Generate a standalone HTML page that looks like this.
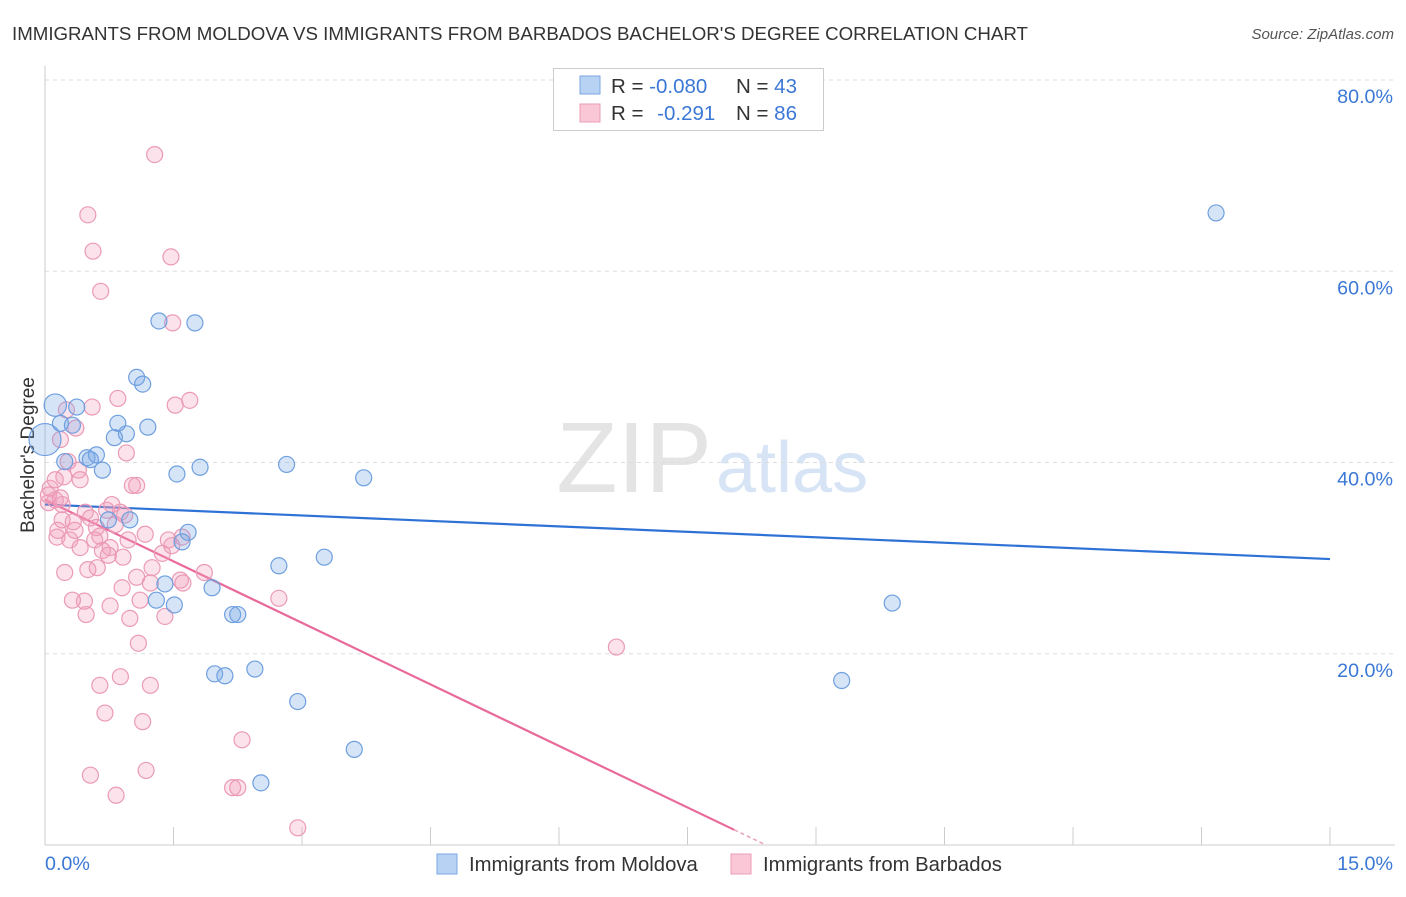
<!DOCTYPE html>
<html><head><meta charset="utf-8">
<style>
body{margin:0;background:#fff;font-family:"Liberation Sans",sans-serif;}
svg text{font-family:"Liberation Sans",sans-serif;}
</style></head>
<body>
<svg id="chart" width="1406" height="892" xmlns="http://www.w3.org/2000/svg">
<text x="12" y="40" font-size="18.7" fill="#333">IMMIGRANTS FROM MOLDOVA VS IMMIGRANTS FROM BARBADOS BACHELOR'S DEGREE CORRELATION CHART</text>
<text x="1394" y="39" font-size="15" fill="#555" text-anchor="end" font-style="italic">Source: ZipAtlas.com</text>
<text x="712" y="492" font-size="100" fill="#e4e4e4" text-anchor="end" font-family="Liberation Serif">ZIP</text>
<text x="716" y="492" font-size="72" fill="#d6e4f5">atlas</text>
<text transform="translate(34,455) rotate(-90)" font-size="19" fill="#333" text-anchor="middle">Bachelor's Degree</text>
<g id="grid"></g><g id="axes"></g><g id="trends"></g><g id="points"></g>
<g>
<rect x="553.5" y="68.5" width="270" height="62" fill="#fff" stroke="#ccc"/>
<rect x="580" y="76" width="20" height="18" fill="#b8d2f3" stroke="#7aa7e3"/>
<rect x="580" y="104" width="20" height="18" fill="#f9c7d6" stroke="#ec9cb7"/>
<text x="611" y="93" font-size="20.5" fill="#333">R = <tspan fill="#3b78d6">-0.080</tspan></text>
<text x="736" y="93" font-size="20.5" fill="#333">N = <tspan fill="#3b78d6">43</tspan></text>
<text x="611" y="120" font-size="20.5" fill="#333">R = <tspan fill="#3b78d6" dx="8">-0.291</tspan></text>
<text x="736" y="120" font-size="20.5" fill="#333">N = <tspan fill="#3b78d6">86</tspan></text>
</g>
<g>
<rect x="437" y="854" width="20" height="20" fill="#b8d2f3" stroke="#7aa7e3"/>
<text x="469" y="871" font-size="20.3" fill="#333">Immigrants from Moldova</text>
<rect x="731" y="854" width="20" height="20" fill="#f9c7d6" stroke="#ec9cb7"/>
<text x="763" y="871" font-size="20.3" fill="#333">Immigrants from Barbados</text>
</g>
</svg>
<script>
const yTicks=[20,40,60,80];
const yTickLabels=["20.0%","40.0%","60.0%","80.0%"];
const xTicks=[0,1.5,3,4.5,6,7.5,9,10.5,12,13.5,15];
const xEndLabels=["0.0%","15.0%"];
const moldovaX=[0.12,0.0,0.18,0.37,0.32,0.23,0.49,0.53,0.60,0.67,0.85,0.81,0.95,1.07,1.14,1.20,1.33,1.75,1.54,1.81,2.82,3.72,0.74,0.99,1.67,1.60,2.73,3.26,1.40,1.30,1.51,1.95,2.19,2.25,1.98,2.10,2.45,2.95,3.61,2.52,9.89,9.30,13.67];
const moldovaY=[46.0,42.4,44.1,45.8,43.9,40.1,40.5,40.3,40.8,39.2,44.1,42.6,43.0,48.9,48.2,43.7,54.8,54.6,38.8,39.5,39.8,38.4,34.0,34.0,32.7,31.7,29.2,30.1,27.3,25.6,25.1,26.9,24.1,24.1,17.9,17.7,18.4,15.0,10.0,6.5,25.3,17.2,66.1];
const moldovaSize=[1.4,2.0,1,1,1,1,1,1,1,1,1,1,1,1,1,1,1,1,1,1,1,1,1,1,1,1,1,1,1,1,1,1,1,1,1,1,1,1,1,1,1,1,1];
const barbadosX=[1.28,0.50,0.56,1.47,0.65,1.49,0.25,0.55,0.85,1.52,1.69,0.36,0.18,0.95,0.27,0.39,0.22,0.41,0.06,1.07,1.02,0.12,0.04,0.20,0.47,0.72,0.88,0.20,0.53,0.60,0.93,1.17,0.14,0.29,0.35,0.64,0.76,0.41,0.74,0.91,1.37,1.48,1.60,0.23,0.61,1.25,1.07,1.58,1.86,0.90,0.46,0.76,1.11,0.48,0.99,1.40,2.73,1.09,6.67,0.64,0.88,1.23,0.70,1.14,2.30,0.53,1.18,0.83,2.19,2.25,2.95,0.12,0.04,0.15,0.33,0.67,0.97,1.44,0.50,1.23,1.61,0.32,0.82,0.58,0.78,0.18];
const barbadosY=[72.2,65.9,62.1,61.5,57.9,54.6,45.5,45.8,46.7,46.0,46.5,43.6,42.4,41.0,40.1,39.2,38.5,38.2,37.3,37.6,37.6,36.1,35.8,35.6,34.8,35.0,34.8,34.0,34.2,33.2,34.5,32.5,32.2,31.9,32.9,32.3,31.1,31.1,30.3,30.1,30.5,31.3,32.2,28.5,29.0,29.0,28.0,27.7,28.5,26.9,25.5,25.0,25.6,24.1,23.7,23.9,25.8,21.1,20.7,16.7,17.6,16.7,13.8,12.9,11.0,7.3,7.8,5.2,6.0,6.0,1.8,38.2,36.6,32.9,33.8,30.8,31.9,31.9,28.8,27.4,27.4,25.6,33.5,31.9,35.6,36.3];
const moldovaTrend=[35.6,-0.38]; // intercept, slope
const barbadosTrend=[36.1,-4.29];
const NS="http://www.w3.org/2000/svg";
const X0=45,X1=1330,Y0=845,Y80=80;
function sx(v){return X0+(X1-X0)*v/15;}
function sy(v){return Y0-(Y0-Y80)*v/80;}
function mk(tag,attrs,parent){const e=document.createElementNS(NS,tag);for(const k in attrs)e.setAttribute(k,attrs[k]);parent.appendChild(e);return e;}
const grid=document.getElementById('grid'),axes=document.getElementById('axes');
yTicks.forEach((t,i)=>{
 const l=mk('line',{x1:X0,x2:1395,y1:sy(t),y2:sy(t),stroke:'#ddd','stroke-dasharray':'4,4'},grid);
 
 
 const tx=mk('text',{x:1393,y:sy(t)+23,'font-size':19.7,fill:'#3b78d6','text-anchor':'end'},axes);
 tx.textContent=yTickLabels[i];
 
 
});
const ya=mk('line',{x1:X0,x2:X0,y1:66,y2:Y0,stroke:'#ccc'},axes);


const xa=mk('line',{x1:X0,x2:1395,y1:Y0,y2:Y0,stroke:'#ccc'},axes);


xTicks.forEach(t=>{
 const l=mk('line',{x1:sx(t),x2:sx(t),y1:Y0,y2:Y0-18,stroke:'#ccc'},axes);
 
 
});
const xl0=mk('text',{x:45,y:870,'font-size':19.7,fill:'#3b78d6'},axes);xl0.textContent=xEndLabels[0];


const xl1=mk('text',{x:1393,y:870,'font-size':19.7,fill:'#3b78d6','text-anchor':'end'},axes);xl1.textContent=xEndLabels[1];


const pts=document.getElementById('points');
barbadosX.forEach((x,i)=>{
 const c=mk('circle',{cx:sx(x),cy:sy(barbadosY[i]),r:8,fill:'rgba(242,160,188,0.3)',stroke:'#eb9ab6','stroke-width':1.2},pts);
 
 
});
moldovaX.forEach((x,i)=>{
 const c=mk('circle',{cx:sx(x),cy:sy(moldovaY[i]),r:8*moldovaSize[i],fill:'rgba(120,165,230,0.3)',stroke:'#6e9fdf','stroke-width':1.2},pts);
 
 
});
const tr=document.getElementById('trends');
const bl=mk('line',{x1:sx(0),y1:sy(moldovaTrend[0]),x2:sx(15),y2:sy(moldovaTrend[0]+15*moldovaTrend[1]),stroke:'#2f72d6','stroke-width':2.2},tr);


const xz=-barbadosTrend[0]/barbadosTrend[1];
const xs=xz*0.956;
const pl=mk('line',{x1:sx(0),y1:sy(barbadosTrend[0]),x2:sx(xs),y2:sy(barbadosTrend[0]+xs*barbadosTrend[1]),stroke:'#e8699a','stroke-width':2.2},tr);


const pd=mk('line',{x1:sx(xs),y1:sy(barbadosTrend[0]+xs*barbadosTrend[1]),x2:sx(xz),y2:sy(0),stroke:'#e8a0bb','stroke-width':1.5,'stroke-dasharray':'4,3'},tr);


</script>
</body></html>
